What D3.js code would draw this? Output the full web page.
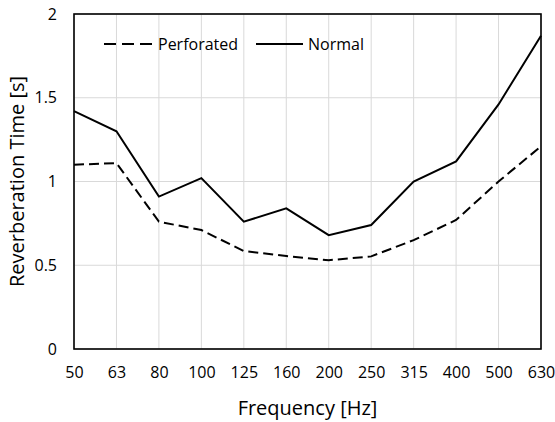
<!DOCTYPE html>
<html>
<head>
<meta charset="utf-8">
<script src="https://cdn.jsdelivr.net/npm/d3@7"></script>
<style>
  html, body { margin: 0; padding: 0; background: #fff; }
  svg { display: block; font-family: "Open Sans", "Noto Sans", sans-serif; }
</style>
</head>
<body>
<svg id="chart" width="555" height="422"></svg>
<script>
// Octave-band centre frequencies (Hz)
const frequencies = ["50", "63", "80", "100", "125", "160", "200", "250", "315", "400", "500", "630"];
// Reverberation time (s) per band
const perforated = [1.10, 1.11, 0.76, 0.71, 0.585, 0.555, 0.53, 0.553, 0.65, 0.77, 1.0, 1.21];
const normal = [1.42, 1.30, 0.91, 1.02, 0.76, 0.84, 0.68, 0.74, 1.00, 1.12, 1.46, 1.87];
const yTicks = [0, 0.5, 1, 1.5, 2];

const svg = d3.select("#chart");
const margin = { left: 74, right: 14, top: 14, bottom: 73 };
const W = 555, H = 422;
const iw = W - margin.left - margin.right;
const ih = H - margin.top - margin.bottom;

const g = svg.append("g").attr("transform", `translate(${margin.left},${margin.top})`);

const x = d3.scalePoint().domain(frequencies).range([0, iw]).padding(0);
const y = d3.scaleLinear().domain([0, 2]).range([ih, 0]);

// Grid
g.append("g").selectAll("line.v").data(frequencies).join("line")
  .attr("x1", d => x(d)).attr("x2", d => x(d))
  .attr("y1", 0).attr("y2", ih)
  .attr("stroke", "#d9d9d9").attr("stroke-width", 1);
g.append("g").selectAll("line.h").data(yTicks).join("line")
  .attr("x1", 0).attr("x2", iw)
  .attr("y1", d => y(d)).attr("y2", d => y(d))
  .attr("stroke", "#d9d9d9").attr("stroke-width", 1);

// Axes (labels only)
const xAxis = g.append("g").attr("transform", `translate(0,${ih})`)
  .call(d3.axisBottom(x).tickSize(0).tickPadding(18));
const yAxis = g.append("g")
  .call(d3.axisLeft(y).tickValues(yTicks).tickFormat(d3.format("")).tickSize(0).tickPadding(17));
[xAxis, yAxis].forEach(a => {
  a.select(".domain").remove();
  a.selectAll("text").attr("font-size", 16).attr("fill", "#000")
    .style("font-family", '"Open Sans", "Noto Sans", sans-serif');
});
xAxis.selectAll("text").attr("dy", "0.71em");

// Series
const line = d3.line().x((d, i) => x(frequencies[i])).y(d => y(d));
g.append("path").datum(perforated).attr("d", line)
  .attr("fill", "none").attr("stroke", "#000").attr("stroke-width", 2)
  .attr("stroke-dasharray", "10,5");
g.append("path").datum(normal).attr("d", line)
  .attr("fill", "none").attr("stroke", "#000").attr("stroke-width", 2);

// Frame
g.append("rect").attr("x", 0).attr("y", 0).attr("width", iw).attr("height", ih)
  .attr("fill", "none").attr("stroke", "#000").attr("stroke-width", 1.6);

// Legend
const legend = svg.append("g").attr("transform", "translate(0,44)");
legend.append("line").attr("x1", 104).attr("x2", 152).attr("y1", 0).attr("y2", 0)
  .attr("stroke", "#000").attr("stroke-width", 2).attr("stroke-dasharray", "12,6");
legend.append("text").attr("x", 158).attr("y", 0).attr("dy", "0.35em")
  .attr("font-size", 16).text("Perforated");
legend.append("line").attr("x1", 256).attr("x2", 303).attr("y1", 0).attr("y2", 0)
  .attr("stroke", "#000").attr("stroke-width", 2);
legend.append("text").attr("x", 308).attr("y", 0).attr("dy", "0.35em")
  .attr("font-size", 16).text("Normal");

// Axis titles
svg.append("text").attr("x", margin.left + iw / 2).attr("y", 415)
  .attr("text-anchor", "middle").attr("font-size", 20).text("Frequency [Hz]");
svg.append("text").attr("transform", `translate(24,${margin.top + ih / 2}) rotate(-90)`)
  .attr("text-anchor", "middle").attr("font-size", 20).text("Reverberation Time [s]");
</script>
</body>
</html>
